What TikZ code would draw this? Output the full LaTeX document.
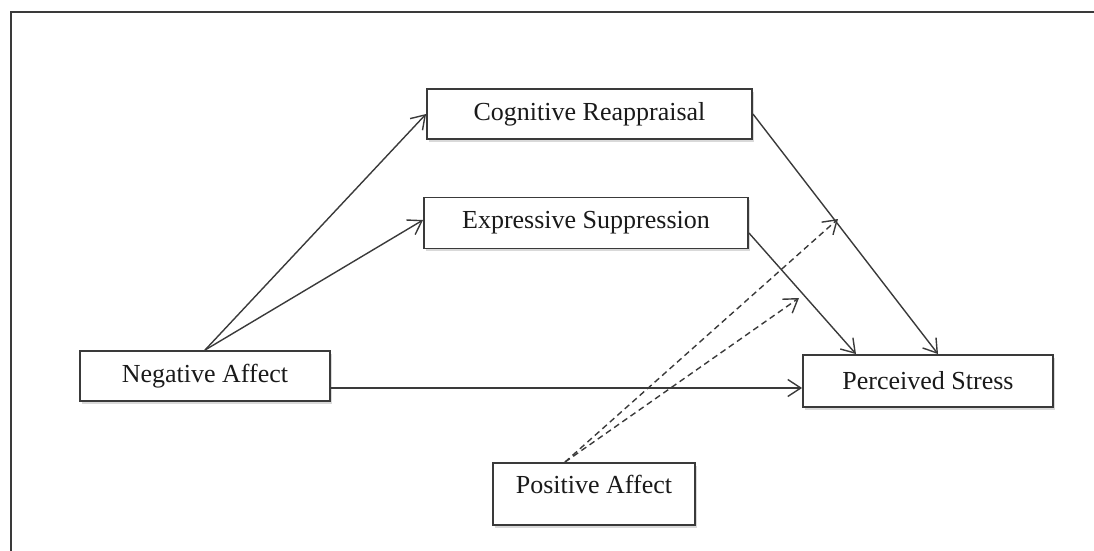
\documentclass[tikz,border=0pt]{standalone}
\usepackage{fontspec}
\setmainfont{Liberation Serif}
\usetikzlibrary{arrows.meta,shadows,calc}
\definecolor{ln}{HTML}{3A3A3A}
\definecolor{tx}{HTML}{1A1A1A}
\tikzset{
  box/.style={draw=ln, line width=1.9pt, fill=white, inner sep=0pt,
    font=\fontsize{26}{29}\selectfont, text=tx,
    drop shadow={opacity=0.3, shadow xshift=1.5pt, shadow yshift=-2.5pt}},
  arr/.style={draw=ln, line width=1.4pt, -{Straight Barb[length=13pt,width=17pt,line width=1.4pt]}},
  darr/.style={arr, dash pattern=on 6pt off 4pt}
}
\begin{document}
\begin{tikzpicture}[x=1pt,y=-1pt]
\useasboundingbox (0,0) rectangle (1094,551);
\draw[draw=ln, line width=2pt] (10.5,551) -- (10.5,12.5) -- (1094,12.5);
\node[box, minimum width=325pt, minimum height=50pt] (CR) at (589.5,114) {Cognitive Reappraisal};
\node[box, minimum width=324pt, minimum height=51pt] (ES) at (586,223) {Expressive Suppression};
\node[box, minimum width=250pt, minimum height=50pt] (NA) at (205,376) {Negative Affect};
\node[box, minimum width=250pt, minimum height=52pt] (PS) at (928,381) {Perceived Stress};
\node[box, minimum width=202pt, minimum height=62pt, text depth=20pt, text height=19pt] (PA) at (594,494) {Positive Affect};
\coordinate (d1) at (838,219);
\coordinate (d2) at (799,298);
\draw[arr] (NA.north) -- (CR.west);
\draw[arr] (NA.north) -- ([yshift=3pt]ES.west);
\draw[arr] ([yshift=-12pt]NA.east) -- ([yshift=-12pt]NA.east -| PS.west);
\draw[arr] (CR.east) -- ([xshift=10pt]PS.north);
\draw[arr] ([yshift=-10pt]ES.east) -- ([xshift=-72pt]PS.north);
\draw[darr] ([xshift=-29pt]PA.north) -- (d1);
\draw[darr] ([xshift=-29pt]PA.north) -- (d2);
\end{tikzpicture}
\end{document}
